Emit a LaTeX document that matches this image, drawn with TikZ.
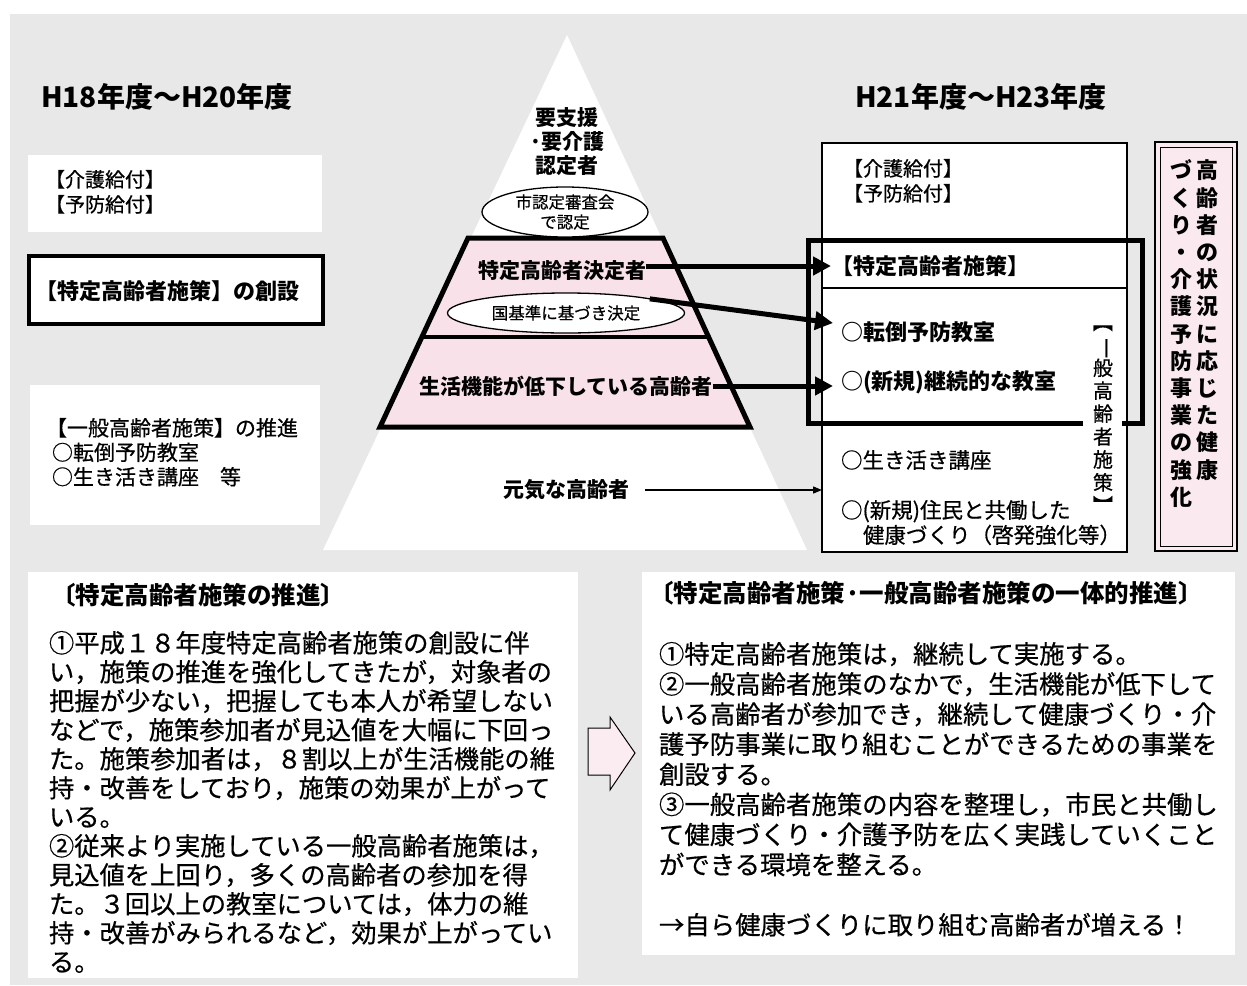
\documentclass[tikz,border=0pt]{standalone}
\usepackage{fontspec}
\setmainfont{Noto Sans CJK JP}
\newfontfamily\jpmed{Noto Sans CJK JP}[FakeBold=0.6]
\usetikzlibrary{arrows.meta,shapes.geometric}
\definecolor{bg}{RGB}{232,232,232}
\definecolor{pinkfill}{RGB}{248,225,232}
\definecolor{pinkbox}{RGB}{250,234,240}
\definecolor{pinkarrow}{RGB}{250,236,241}
\newcommand{\fsz}[2]{\fontsize{#1}{#2}\selectfont}
\newcommand{\rv}[1]{\rotatebox[origin=c]{-90}{#1}}
\begin{document}
\begin{tikzpicture}[x=1pt,y=-1pt,
  every node/.style={inner sep=0pt,outer sep=0pt},
  hd/.style={font=\fsz{28}{32}\bfseries},
  lbl/.style={font=\jpmed\fsz{20}{25}},
  lblb/.style={font=\fsz{22}{25}\bfseries},
  gen/.style={font=\jpmed\fsz{21}{24.5}},
  pyr/.style={font=\fsz{21}{24}\bfseries, align=center},
  ell/.style={ellipse, draw, line width=1.3pt, fill=white},
  elltxt/.style={font=\jpmed\fsz{16.5}{20}, align=center},
  itemb/.style={font=\fsz{22}{25}\bfseries, anchor=west},
  item/.style={font=\jpmed\fsz{21.5}{25}, anchor=west},
  vt/.style={align=center, anchor=north},
  bhd/.style={font=\fsz{24.5}{30}\bfseries, anchor=west},
  body/.style={align=left, anchor=north west},
  thickarrow/.style={line width=5pt, -{Triangle[length=18pt,width=18pt]}},
  thinarrow/.style={line width=1.3pt, -{Triangle[length=9pt,width=7pt]}},
  heavy/.style={line width=5pt, line join=miter},
]
\useasboundingbox (0,0) rectangle (1247,985);
\fill[white] (0,0) rectangle (1247,985);
\fill[bg] (10,14) rectangle (1247,985);
% white panels
\fill[white] (28,155) rectangle (322,232);
\fill[white] (30,385) rectangle (320,525);
\fill[white] (567,35) -- (323,550) -- (807,550) -- cycle;
\fill[white] (28,572) rectangle (578,978);
\fill[white] (642,572) rectangle (1235,955);

% ---------- left column ----------
\node[hd] (h1) at (167,97) {H18年度～H20年度};
\node[lbl, align=left, anchor=north west] (kyufu1) at (45,170) {【介護給付】\\【予防給付】};
\node[draw, line width=4pt, fill=white, minimum width=294pt, minimum height=68pt] (sosetsu) at (176,290) {};
\node[lblb, anchor=west] (sosetsut) at (35,291) {【特定高齢者施策】の創設};
\node[gen, align=left, anchor=north west] (ippan1) at (46,418) {【一般高齢者施策】の推進\\\hspace*{6pt}○転倒予防教室\\\hspace*{6pt}○生き活き講座　等};

% ---------- pyramid ----------
\draw[heavy, fill=pinkfill] (468,238) -- (663,238) -- (750,427) -- (380,427) -- cycle;
\draw[line width=4pt] (422,337) -- (709,337);
\node[pyr] (top) at (567,142) {要支援\\·要介護\\認定者};
\node[ell, minimum width=166pt, minimum height=50pt] (e1) at (565,212) {};
\node[elltxt] (e1t) at (e1.center) {市認定審査会\\で認定};
\node[pyr] (kettei) at (562,271) {特定高齢者決定者};
\node[ell, minimum width=237pt, minimum height=40pt] (e2) at (566,313) {};
\node[elltxt] (e2t) at (e2.center) {国基準に基づき決定};
\node[pyr] (seikatsu) at (566,386) {生活機能が低下している高齢者};
\node[pyr] (genki) at (566,490) {元気な高齢者};

% ---------- right column ----------
\node[hd] (h2) at (981,97) {H21年度～H23年度};
\node[draw, line width=1.3pt, fill=white, minimum width=305pt, minimum height=409pt] (rbox) at (974.5,347.5) {};
\coordinate (divL) at (822,288);
\coordinate (divR) at (1127,288);
\draw[line width=1.3pt] (divL) -- (divR);
\draw[heavy] (1083,423) -- (808,423) -- (808,240) -- (1142,240) -- (1142,423) -- (1122,423);
\node[lbl, align=left, anchor=north west] (kyufu2) at (843,159) {【介護給付】\\【予防給付】};
\node[lblb, anchor=west] (tokutei) at (831,266) {【特定高齢者施策】};
\node[itemb] (tento) at (841,332) {○転倒予防教室};
\node[itemb] (keizoku) at (841,382) {○(新規)継続的な教室};
\node[item] (ikiiki) at (841,460) {○生き活き講座};
\node[item, align=left, anchor=north west] (jumin) at (841,500) {○(新規)住民と共働した\\\hspace*{22pt}健康づくり（啓発強化等）};
\node[vt, font=\jpmed\fsz{20}{22.9}] (ippanv) at (1103,312) {\rv{【}\\\rv{一}\\般\\高\\齢\\者\\施\\策\\\rv{】}};

% pink box with vertical text
\draw[line width=2.2pt, fill=pinkbox] (1155,142) rectangle (1237,551);
\draw[line width=1pt] (1160,147) rectangle (1232,546);
\node[vt, font=\fsz{22}{27.2}\bfseries] (vr) at (1207,160) {高\\齢\\者\\の\\状\\況\\に\\応\\じ\\た\\健\\康};
\node[vt, font=\fsz{22}{27.2}\bfseries] (vl) at (1181,160) {づ\\く\\り\\・\\介\\護\\予\\防\\事\\業\\の\\強\\化};

% arrows from pyramid
\draw[thickarrow] (kettei.east |- tokutei.west) -- (tokutei.west);
\draw[thickarrow] (e2.north east) -- ([shift={(-8,-9)}]tento.west);
\draw[thickarrow, shorten >=8pt] (seikatsu.east) -- (seikatsu.east -| keizoku.west);
\draw[thinarrow] ([xshift=16pt]genki.east) -- (genki.east -| rbox.west);

% ---------- bottom ----------
\node[bhd] (lh) at (51,595) {〔特定高齢者施策の推進〕};
\node[body, font=\jpmed\fsz{25.3}{29}] (lb) at (49,631) {①平成１８年度特定高齢者施策の創設に伴\\い，施策の推進を強化してきたが，対象者の\\把握が少ない，把握しても本人が希望しない\\などで，施策参加者が見込値を大幅に下回っ\\た。施策参加者は，８割以上が生活機能の維\\持・改善をしており，施策の効果が上がって\\いる。\\②従来より実施している一般高齢者施策は，\\見込値を上回り，多くの高齢者の参加を得\\た。３回以上の教室については，体力の維\\持・改善がみられるなど，効果が上がってい\\る。};

\draw[line width=1pt, fill=pinkarrow] (588,728) -- (610,728) -- (610,717) -- (635,753) -- (610,790) -- (610,775) -- (588,775) -- cycle;

\node[bhd] (rh) at (649,593) {〔特定高齢者施策·一般高齢者施策の一体的推進〕};
\node[body, font=\jpmed\fsz{25.4}{30.1}] (rb) at (659,642) {①特定高齢者施策は，継続して実施する。\\②一般高齢者施策のなかで，生活機能が低下して\\いる高齢者が参加でき，継続して健康づくり・介\\護予防事業に取り組むことができるための事業を\\創設する。\\③一般高齢者施策の内容を整理し，市民と共働し\\て健康づくり・介護予防を広く実践していくこと\\ができる環境を整える。\\[30.1pt]→自ら健康づくりに取り組む高齢者が増える！};
\end{tikzpicture}
\end{document}
